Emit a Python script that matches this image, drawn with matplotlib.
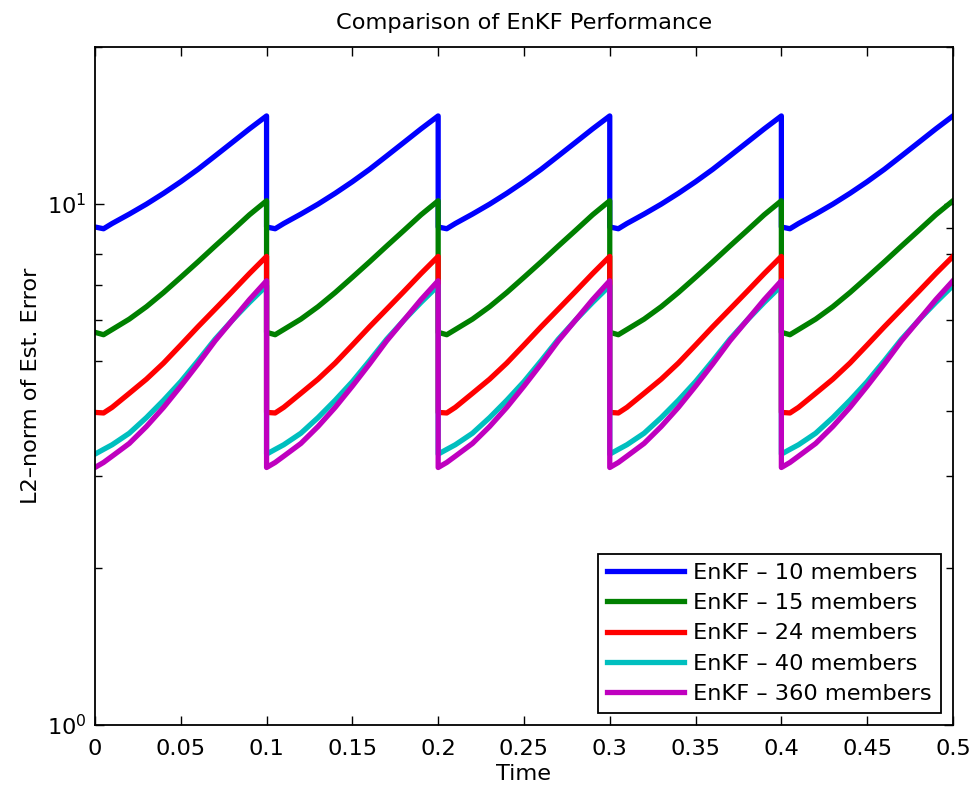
"""Comparison of EnKF performance: L2-norm of the estimation error for
different ensemble sizes (log scale, sawtooth from the 0.1 analysis cycle)."""

import matplotlib
matplotlib.use("Agg")

import matplotlib.pyplot as plt
import matplotlib.ticker as mticker
import numpy as np

plt.rcParams["font.family"] = ["DejaVu Sans"]

# ── Data (one assimilation cycle) ──────────────────────────────────────────
CYCLE_T = [0.0, 0.005, 0.01, 0.02, 0.03, 0.04, 0.05,
           0.06, 0.07, 0.08, 0.09, 0.1]
N_CYCLES = 5
CYCLE_LEN = 0.1

ERR_10 = [9.03, 8.96, 9.17, 9.56, 9.99, 10.48, 11.03,
          11.65, 12.36, 13.12, 13.93, 14.75]
ERR_15 = [5.67, 5.61, 5.74, 6.01, 6.35, 6.76, 7.23,
          7.74, 8.30, 8.89, 9.53, 10.14]
ERR_24 = [3.98, 3.97, 4.07, 4.33, 4.61, 4.95, 5.36,
          5.81, 6.28, 6.79, 7.35, 7.93]
ERR_40 = [3.31, 3.38, 3.45, 3.63, 3.89, 4.20, 4.56,
          5.00, 5.50, 5.98, 6.47, 6.97]
ERR_360 = [3.12, 3.19, 3.28, 3.47, 3.74, 4.07, 4.47,
           4.93, 5.46, 5.98, 6.55, 7.12]

SERIES = [
    ("EnKF \u2013 10 members", ERR_10, (0, 0, 1)),
    ("EnKF \u2013 15 members", ERR_15, (0, 0.5, 0)),
    ("EnKF \u2013 24 members", ERR_24, (1, 0, 0)),
    ("EnKF \u2013 40 members", ERR_40, (0, 0.75, 0.75)),
    ("EnKF \u2013 360 members", ERR_360, (0.75, 0, 0.75)),
]

X_TICKS = [0, 0.05, 0.1, 0.15, 0.2, 0.25, 0.3, 0.35, 0.4, 0.45, 0.5]
FS = 16.2


def full_series(cycle_vals):
    # the same cycle repeats after every analysis step
    t, v = [], []
    for k in range(N_CYCLES):
        t.extend(np.array(CYCLE_T) + k * CYCLE_LEN)
        v.extend(cycle_vals)
    return np.array(t), np.array(v)


fig = plt.figure(figsize=(9.75, 7.89), dpi=100)
ax = fig.add_axes([0.0974, 0.0811, 0.88, 0.8593])

for label, vals, color in SERIES:
    t, v = full_series(vals)
    ax.plot(t, v, color=color, linewidth=3.8, label=label)

ax.set_yscale("log")
ax.set_xlim(0, 0.5)
ax.set_ylim(1, 20)
ax.set_xticks(X_TICKS)
ax.xaxis.set_major_formatter(mticker.FuncFormatter(lambda v, _: f"{v:g}"))
ax.yaxis.set_minor_formatter(mticker.NullFormatter())

ax.tick_params(which="both", direction="in", top=True, right=True,
               labelsize=FS, width=1.0)
ax.tick_params(which="major", length=6.5, pad=6)
ax.tick_params(axis="x", which="major", pad=10)
ax.tick_params(which="minor", length=5)
for s in ax.spines.values():
    s.set_linewidth(1.3)

ax.set_xlabel("Time", fontsize=FS, labelpad=4)
ax.set_ylabel("L2\u2013norm of Est. Error", fontsize=FS, labelpad=4)
ax.set_title("Comparison of EnKF Performance", fontsize=FS, pad=13)

leg = ax.legend(loc="lower right", fontsize=FS, frameon=True, fancybox=False,
                edgecolor="black", framealpha=1, handlelength=3.4,
                handletextpad=0.4, labelspacing=0.45, borderaxespad=0.55,
                borderpad=0.4)
leg.get_frame().set_linewidth(1.3)

fig.savefig("out.png", dpi=100, facecolor="white")
